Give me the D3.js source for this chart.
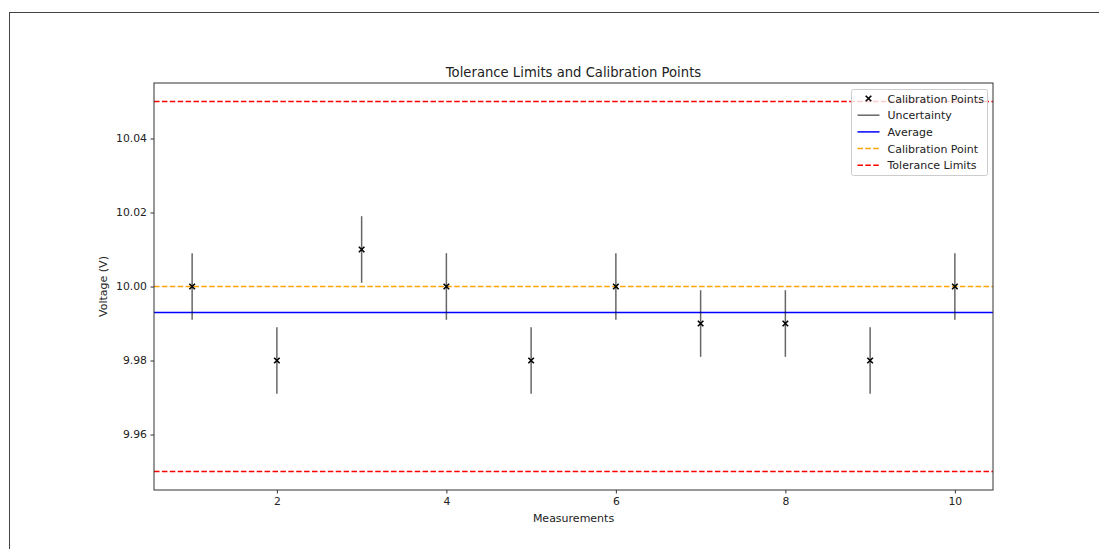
<!DOCTYPE html>
<html>
<head>
<meta charset="utf-8">
<script src="https://cdn.jsdelivr.net/npm/d3@7"></script>
<style>
  body { margin: 0; background: #fff; }
  text { font-family: "DejaVu Sans", sans-serif; fill: #222; }
</style>
</head>
<body>
<div id="graph"></div>
<script>
// Chart values
const measurements = [1, 2, 3, 4, 5, 6, 7, 8, 9, 10];
const voltages = [10.00, 9.98, 10.01, 10.00, 9.98, 10.00, 9.99, 9.99, 9.98, 10.00];
const uncertainty = [0.009, 0.009, 0.009, 0.009, 0.009, 0.009, 0.009, 0.009, 0.009, 0.009];
const calibrationPoint = 10.00;
const toleranceLimits = [9.95, 10.05];
const xTicks = [2, 4, 6, 8, 10];
const yTicks = [9.96, 9.98, 10.00, 10.02, 10.04];
const legendLabels = ['Calibration Points', 'Uncertainty', 'Average', 'Calibration Point', 'Tolerance Limits'];

const average = d3.mean(voltages);

const W = 1099, H = 549;
const margin = {top: 83, right: 106, bottom: 59, left: 154};
const width = W - margin.left - margin.right,
  height = H - margin.top - margin.bottom;

const svgRoot = d3.select('#graph')
  .append('svg')
  .attr('width', W)
  .attr('height', H);

// figure border (clipped by window)
svgRoot.append('rect')
  .attr('x', 9.5).attr('y', 12.5)
  .attr('width', W + 10).attr('height', H + 10)
  .attr('fill', 'none').attr('stroke', '#444').attr('stroke-width', 1);

const svg = svgRoot.append('g')
  .attr('transform', `translate(${margin.left},${margin.top})`);

const x = d3.scaleLinear().domain([0.55, 10.45]).range([0, width]);
const y = d3.scaleLinear().domain([9.945, 10.055]).range([height, 0]);

// horizontal reference lines
svg.selectAll('.tol')
  .data(toleranceLimits)
  .enter().append('line')
  .attr('x1', 0).attr('x2', width)
  .attr('y1', d => y(d)).attr('y2', d => y(d))
  .attr('stroke', 'red').attr('stroke-width', 1.5)
  .attr('stroke-dasharray', '5.5,2.4');

svg.append('line')
  .attr('x1', 0).attr('x2', width)
  .attr('y1', y(average)).attr('y2', y(average))
  .attr('stroke', 'blue').attr('stroke-width', 1.5);

svg.append('line')
  .attr('x1', 0).attr('x2', width)
  .attr('y1', y(calibrationPoint)).attr('y2', y(calibrationPoint))
  .attr('stroke', 'orange').attr('stroke-width', 1.5)
  .attr('stroke-dasharray', '5.5,2.4');

// error bars
svg.selectAll('.err')
  .data(measurements)
  .enter().append('line')
  .attr('x1', d => x(d)).attr('x2', d => x(d))
  .attr('y1', (d, i) => y(voltages[i] - uncertainty[i]))
  .attr('y2', (d, i) => y(voltages[i] + uncertainty[i]))
  .attr('stroke', '#000').attr('stroke-opacity', 0.6).attr('stroke-width', 1.5);

// x markers
const cross = d3.symbol().type(d3.symbolX).size(22);
svg.selectAll('.pt')
  .data(measurements)
  .enter().append('path')
  .attr('d', cross)
  .attr('transform', (d, i) => `translate(${x(d)},${y(voltages[i])})`)
  .attr('fill', 'none').attr('stroke', '#000').attr('stroke-width', 1.6);

// axes
const xAxis = svg.append('g')
  .attr('transform', `translate(0,${height})`)
  .call(d3.axisBottom(x).tickValues(xTicks).tickSize(3.5).tickPadding(3.5).tickFormat(d3.format('d')));
const yAxis = svg.append('g')
  .call(d3.axisLeft(y).tickValues(yTicks).tickSize(3.5).tickPadding(3.5).tickFormat(d3.format('.2f')));
[xAxis, yAxis].forEach(a => {
  a.select('.domain').remove();
  a.selectAll('.tick line').attr('stroke', '#333');
  a.selectAll('.tick text').attr('font-size', 10.8).attr('fill', '#222')
    .attr('font-family', '"DejaVu Sans", sans-serif');
});

svg.append('rect')
  .attr('x', 0).attr('y', 0).attr('width', width).attr('height', height)
  .attr('fill', 'none').attr('stroke', '#333').attr('stroke-width', 1);

// labels
svg.append('text')
  .attr('x', width / 2).attr('y', -6.5)
  .attr('text-anchor', 'middle').attr('font-size', 13.2)
  .text('Tolerance Limits and Calibration Points');
svg.append('text')
  .attr('x', width / 2).attr('y', height + 32)
  .attr('text-anchor', 'middle').attr('font-size', 11)
  .text('Measurements');
svg.append('text')
  .attr('transform', `translate(-47,${height / 2}) rotate(-90)`)
  .attr('text-anchor', 'middle').attr('font-size', 11)
  .text('Voltage (V)');

// legend
const lg = svg.append('g').attr('transform', `translate(${width - 141.5},6.5)`);
lg.append('rect')
  .attr('x', 0).attr('y', 0).attr('width', 136).attr('height', 86).attr('rx', 2)
  .attr('fill', '#fff').attr('fill-opacity', 0.8)
  .attr('stroke', '#ccc');
const styles = [
  {type: 'marker'},
  {color: '#000', opacity: 0.6, dash: null},
  {color: 'blue', opacity: 1, dash: null},
  {color: 'orange', opacity: 1, dash: '5.5,2.4'},
  {color: 'red', opacity: 1, dash: '5.5,2.4'}
];
legendLabels.forEach((lab, i) => {
  const cy = 9 + i * 16.7;
  const s = styles[i];
  if (s.type === 'marker') {
    lg.append('path').attr('d', cross)
      .attr('transform', `translate(17,${cy})`)
      .attr('fill', 'none').attr('stroke', '#000').attr('stroke-width', 1.6);
  } else {
    lg.append('line')
      .attr('x1', 6).attr('x2', 28).attr('y1', cy).attr('y2', cy)
      .attr('stroke', s.color).attr('stroke-opacity', s.opacity).attr('stroke-width', 1.5)
      .attr('stroke-dasharray', s.dash);
  }
  lg.append('text')
    .attr('x', 36).attr('y', cy + 4)
    .attr('font-size', 11)
    .text(lab);
});
</script>
</body>
</html>
